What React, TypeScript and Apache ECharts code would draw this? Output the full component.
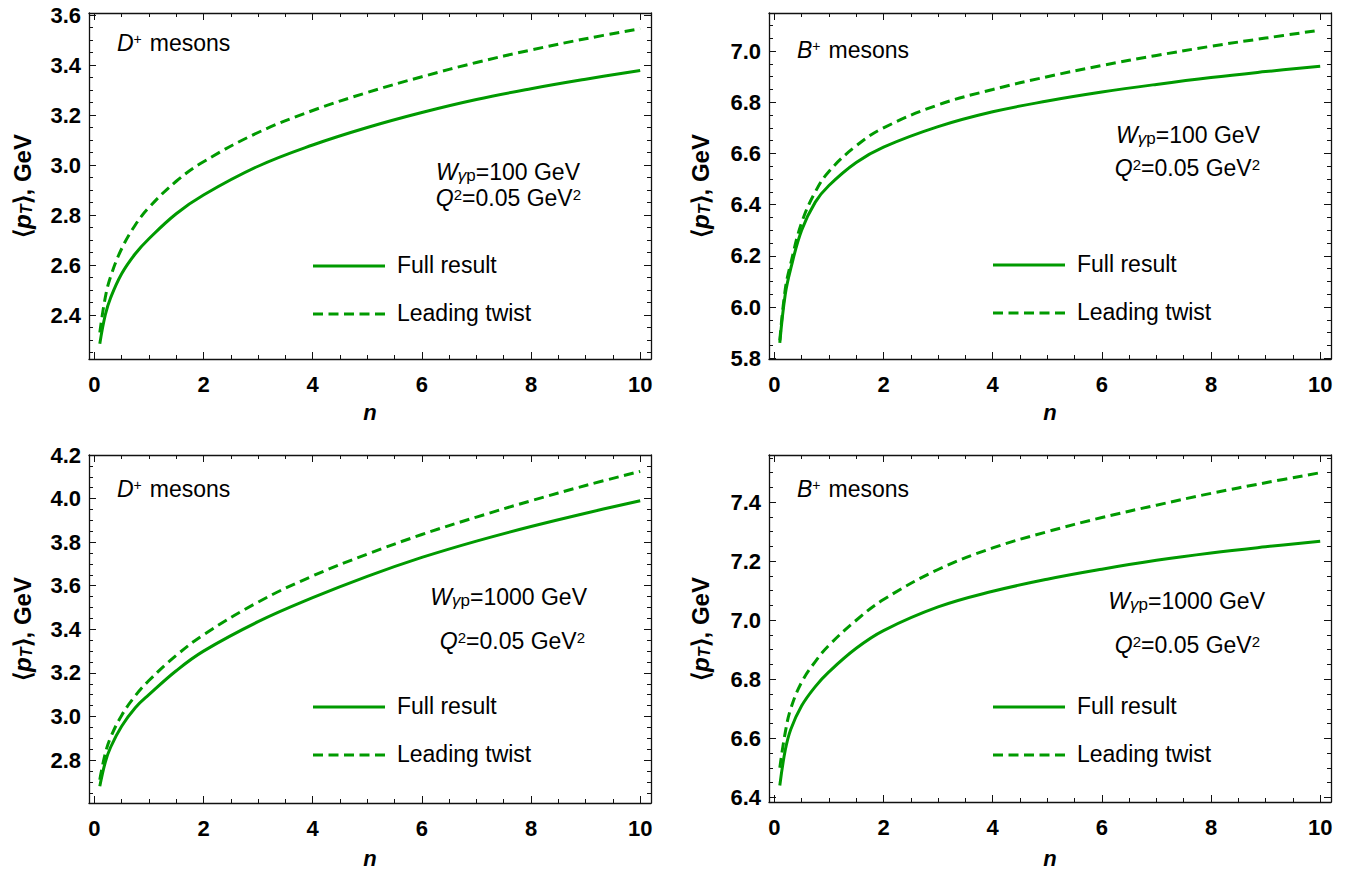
import React, { useEffect, useRef } from "react";
import * as echarts from "echarts";

// n values (x axis)
const nValues = [0.1, 0.2, 0.3, 0.5, 0.75, 1, 1.5, 2, 3, 4, 5, 6, 7, 8, 9, 10];

// D+ mesons, W = 100 GeV
const dW100Full = [2.285, 2.40, 2.47, 2.565, 2.645, 2.705, 2.805, 2.88, 2.995, 3.08, 3.15, 3.21, 3.262, 3.305, 3.343, 3.378];
const dW100Twist = [2.33, 2.47, 2.555, 2.665, 2.76, 2.83, 2.935, 3.013, 3.13, 3.218, 3.29, 3.353, 3.41, 3.46, 3.505, 3.545];
// B+ mesons, W = 100 GeV
const bW100Full = [5.86, 6.05, 6.15, 6.30, 6.41, 6.475, 6.565, 6.625, 6.705, 6.763, 6.805, 6.84, 6.87, 6.897, 6.92, 6.941];
const bW100Twist = [5.87, 6.07, 6.17, 6.33, 6.45, 6.53, 6.63, 6.70, 6.79, 6.85, 6.90, 6.944, 6.983, 7.019, 7.051, 7.082];
// D+ mesons, W = 1000 GeV
const dW1000Full = [2.68, 2.79, 2.86, 2.955, 3.04, 3.10, 3.21, 3.30, 3.435, 3.545, 3.643, 3.73, 3.805, 3.872, 3.933, 3.99];
const dW1000Twist = [2.71, 2.83, 2.905, 3.005, 3.095, 3.165, 3.28, 3.375, 3.525, 3.645, 3.745, 3.835, 3.915, 3.99, 4.06, 4.125];
// B+ mesons, W = 1000 GeV
const bW1000Full = [6.44, 6.56, 6.63, 6.71, 6.775, 6.825, 6.905, 6.965, 7.045, 7.098, 7.139, 7.173, 7.203, 7.228, 7.249, 7.268];
const bW1000Twist = [6.50, 6.62, 6.70, 6.79, 6.86, 6.915, 7.00, 7.07, 7.172, 7.245, 7.30, 7.348, 7.39, 7.43, 7.466, 7.50];

// tick labels
const xTickLabels = ["0", "2", "4", "6", "8", "10"];
const seriesNames = ["Full result", "Leading twist"];
const mesonLabels = ["D", "B", "D", "B"];
const energyLabels = ["100", "100", "1000", "1000"];

const GREEN = "#009a00";
const FONT = "'Liberation Sans', Arial, Helvetica, sans-serif";

export default function App() {
  const ref = useRef<HTMLDivElement>(null);

  useEffect(() => {
    if (!ref.current) return;
    const chart = echarts.init(ref.current, undefined, { renderer: "svg" });

    const panels = [
      { grid: { left: 89, top: 13, width: 562, height: 346 }, y: [2.224, 3.608], full: dW100Full, twist: dW100Twist,
        meson: { x: 117, y: 43 }, w: { x: 580, y: 172 }, q: { x: 581, y: 198 }, leg: { x: 313, y: 266 }, xt: { x: 370, y: 412 }, yt: { x: 22, y: 186 } },
      { grid: { left: 769, top: 13, width: 562, height: 346 }, y: [5.797, 7.149], full: bW100Full, twist: bW100Twist,
        meson: { x: 797, y: 50 }, w: { x: 1260, y: 135 }, q: { x: 1260, y: 168 }, leg: { x: 993, y: 265 }, xt: { x: 1050, y: 412 }, yt: { x: 700, y: 186 } },
      { grid: { left: 89, top: 455, width: 562, height: 348 }, y: [2.603, 4.2], full: dW1000Full, twist: dW1000Twist,
        meson: { x: 117, y: 489 }, w: { x: 587, y: 597 }, q: { x: 585, y: 641 }, leg: { x: 313, y: 707 }, xt: { x: 370, y: 858 }, yt: { x: 22, y: 629 } },
      { grid: { left: 769, top: 455, width: 562, height: 347 }, y: [6.384, 7.56], full: bW1000Full, twist: bW1000Twist,
        meson: { x: 797, y: 489 }, w: { x: 1265, y: 601 }, q: { x: 1260, y: 645 }, leg: { x: 993, y: 707 }, xt: { x: 1050, y: 858 }, yt: { x: 700, y: 629 } },
    ];

    const axisLine = { show: true, onZero: false, lineStyle: { color: "#111", width: 1.3 } };
    const axisTick = { show: true, inside: true, length: 7, lineStyle: { color: "#111", width: 1 } };
    const minorTick = { show: true, splitNumber: 4, length: 4, lineStyle: { color: "#111", width: 1 } };

    const grids: any[] = [];
    const xAxes: any[] = [];
    const yAxes: any[] = [];
    const series: any[] = [];
    const graphic: any[] = [];

    panels.forEach((p, i) => {
      grids.push({ ...p.grid, containLabel: false });
      const xBase = {
        type: "value", gridIndex: i, min: -0.098, max: 10.198, minInterval: 2, maxInterval: 2,
        axisLine, axisTick, minorTick, splitLine: { show: false },
      };
      xAxes.push({
        ...xBase, position: "bottom",
        axisLabel: {
          show: true, margin: 14, color: "#000", fontSize: 22, fontWeight: "bold", fontFamily: FONT,
          formatter: (v: number) => {
            const k = Math.round(v / 2);
            return Math.abs(v - k * 2) < 1e-6 && k >= 0 && k < xTickLabels.length ? xTickLabels[k] : "";
          },
        },
      });
      xAxes.push({ ...xBase, position: "top", axisLabel: { show: false } });
      const yBase = {
        type: "value", gridIndex: i, min: p.y[0], max: p.y[1], minInterval: 0.2, maxInterval: 0.2,
        axisLine, axisTick, minorTick, splitLine: { show: false },
      };
      yAxes.push({
        ...yBase, position: "left",
        axisLabel: {
          show: true, margin: 8, color: "#000", fontSize: 22, fontWeight: "bold", fontFamily: FONT,
          formatter: (v: number) => {
            const k = Math.round(v / 0.2);
            return Math.abs(v - k * 0.2) < 1e-6 ? v.toFixed(1) : "";
          },
        },
      });
      yAxes.push({ ...yBase, position: "right", axisLabel: { show: false } });

      series.push({
        type: "line", name: seriesNames[0], xAxisIndex: i * 2, yAxisIndex: i * 2,
        data: nValues.map((n, j) => [n, p.full[j]]), showSymbol: false, symbol: "none",
        smooth: 0.4,
        lineStyle: { color: GREEN, width: 3 }, itemStyle: { color: GREEN },
      });
      series.push({
        type: "line", name: seriesNames[1], xAxisIndex: i * 2, yAxisIndex: i * 2,
        data: nValues.map((n, j) => [n, p.twist[j]]), showSymbol: false, symbol: "none",
        smooth: 0.4,
        lineStyle: { color: GREEN, width: 3, type: [10, 5.5] }, itemStyle: { color: GREEN },
      });

      const big = 23;
      const baseTxt = { fontSize: big, fontFamily: FONT, fill: "#000" };
      // meson label
      graphic.push({
        type: "text", x: p.meson.x, y: p.meson.y,
        style: {
          text: `{it|${mesonLabels[i]}}{sup|+}{r|mesons}`, align: "left", verticalAlign: "middle",
          rich: {
            it: { ...baseTxt, fontStyle: "italic" },
            sup: { fontSize: 14, fontFamily: FONT, fill: "#000", verticalAlign: "top", padding: [0, 8, 0, 0] },
            r: { ...baseTxt },
          },
        },
      });
      // W label
      graphic.push({
        type: "text", x: p.w.x, y: p.w.y,
        style: {
          text: `{it|W}{subi|γ}{sub|p}{r|=${energyLabels[i]} GeV}`, align: "right", verticalAlign: "middle",
          rich: {
            it: { ...baseTxt, fontStyle: "italic" },
            subi: { fontSize: 17, fontFamily: FONT, fill: "#000", fontStyle: "italic", verticalAlign: "bottom" },
            sub: { fontSize: 17, fontFamily: FONT, fill: "#000", verticalAlign: "bottom" },
            r: { ...baseTxt },
          },
        },
      });
      // Q label
      graphic.push({
        type: "text", x: p.q.x, y: p.q.y,
        style: {
          text: `{it|Q}{sup|2}{r|=0.05 GeV}{sup|2}`, align: "right", verticalAlign: "middle",
          rich: {
            it: { ...baseTxt, fontStyle: "italic" },
            sup: { fontSize: 15, fontFamily: FONT, fill: "#000", verticalAlign: "top" },
            r: { ...baseTxt },
          },
        },
      });
      // legend
      graphic.push({
        type: "line", shape: { x1: p.leg.x, y1: p.leg.y, x2: p.leg.x + 72, y2: p.leg.y },
        style: { stroke: GREEN, lineWidth: 3 },
      });
      graphic.push({
        type: "text", x: p.leg.x + 84, y: p.leg.y - 1,
        style: { text: seriesNames[0], ...baseTxt, align: "left", verticalAlign: "middle" },
      });
      graphic.push({
        type: "line", shape: { x1: p.leg.x, y1: p.leg.y + 48, x2: p.leg.x + 72, y2: p.leg.y + 48 },
        style: { stroke: GREEN, lineWidth: 3, lineDash: [10, 5.5] },
      });
      graphic.push({
        type: "text", x: p.leg.x + 84, y: p.leg.y + 47,
        style: { text: seriesNames[1], ...baseTxt, align: "left", verticalAlign: "middle" },
      });
      // axis titles
      graphic.push({
        type: "text", x: p.xt.x, y: p.xt.y,
        style: { text: "n", fontSize: 22, fontFamily: FONT, fontWeight: "bold", fontStyle: "italic", fill: "#000", align: "center", verticalAlign: "middle" },
      });
      graphic.push({
        type: "text", x: p.yt.x, y: p.yt.y, rotation: Math.PI / 2,
        style: {
          text: "{a|⟨}{p|p}{t|T}{a|⟩, GeV}", align: "center", verticalAlign: "middle",
          rich: {
            a: { fontSize: 24, fontFamily: FONT, fontWeight: "bold", fill: "#000" },
            p: { fontSize: 24, fontFamily: FONT, fontWeight: "bold", fontStyle: "italic", fill: "#000" },
            t: { fontSize: 16, fontFamily: FONT, fontWeight: "bold", fontStyle: "italic", fill: "#000", verticalAlign: "bottom" },
          },
        },
      });
    });

    chart.setOption({
      animation: false,
      backgroundColor: "#fff",
      grid: grids,
      xAxis: xAxes,
      yAxis: yAxes,
      series,
      graphic,
    });

    return () => chart.dispose();
  }, []);

  return (
    <div
      ref={ref}
      style={{ position: "absolute", left: 0, top: 0, width: 1361, height: 872, background: "#fff" }}
    />
  );
}
